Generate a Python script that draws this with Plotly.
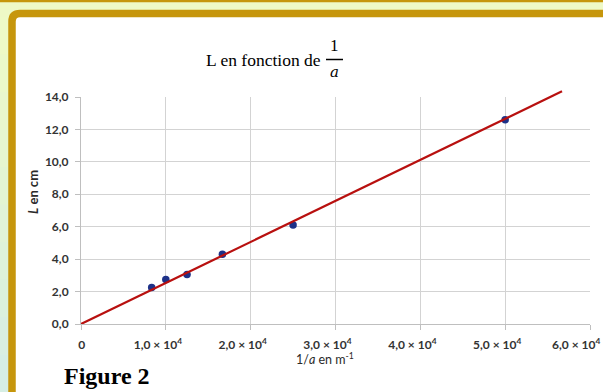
import plotly.graph_objects as go

# ---- data ----
inv_a = [8330, 10000, 12500, 16670, 25000, 50000]          # 1/a in m^-1
L_cm = [2.25, 2.75, 3.05, 4.3, 6.1, 12.6]                  # L in cm
fit_x = [0, 56700]
fit_y = [0, 14.35]

NB = "\u00a0"
x_ticks = [0, 10000, 20000, 30000, 40000, 50000, 60000]
x_ticklabels = [NB * 6 + "0", "1,0 × 10<sup>4</sup>", "2,0 × 10<sup>4</sup>", "3,0 × 10<sup>4</sup>",
                "4,0 × 10<sup>4</sup>", "5,0 × 10<sup>4</sup>", "6,0 × 10<sup>4</sup>" + NB * 4]
y_ticks = [0, 2, 4, 6, 8, 10, 12, 14]
y_ticklabels = ["0,0", "2,0", "4,0", "6,0", "8,0", "10,0", "12,0", "14,0"]

# ---- geometry ----
W, H = 603, 392
ML, MR, MT, MB = 81, 13, 87, 68
PW, PH = W - ML - MR, H - MT - MB
Y_TOP_FRAC = 227 / PH


def X(px):
    return (px - ML) / PW


def Y(py):
    return (H - MB - py) / PH


fig = go.Figure()

fig.add_trace(go.Scatter(x=inv_a, y=L_cm, mode="markers", xaxis="x", yaxis="y",
                         marker=dict(color="#1d3188", size=7.5, line=dict(width=0)),
                         showlegend=False, hoverinfo="skip"))
fig.add_trace(go.Scatter(x=fit_x, y=fit_y, mode="lines", xaxis="x2", yaxis="y2",
                         line=dict(color="#b8100f", width=2.2),
                         showlegend=False, hoverinfo="skip"))

tickfont = dict(family="Lato", size=12, color="#333333", weight="bold")

shapes = []
# background gradient on left strip
c0 = (238, 250, 198)
c1 = (214, 238, 228)
n = 10
for i in range(n):
    t = i / (n - 1)
    col = "rgb(%d,%d,%d)" % tuple(round(a + (b - a) * t) for a, b in zip(c0, c1))
    y0 = 17 + i * (H - 17) / n
    y1 = 17 + (i + 1) * (H - 17) / n + 1
    shapes.append(dict(type="rect", xref="paper", yref="paper", layer="below",
                       x0=X(-5), x1=X(10), y0=Y(y0), y1=Y(y1),
                       line=dict(width=0), fillcolor=col))
# thin gold strip at very top
shapes.append(dict(type="rect", xref="paper", yref="paper", layer="below",
                   x0=X(-5), x1=X(W + 5), y0=Y(-3), y1=Y(2.3),
                   line=dict(width=0), fillcolor="#c6960c"))
# framed white panel with rounded corner
r = 8
path = ("M {a},{b} L {a},{c} Q {a},{d} {e},{d} L {f},{d} L {f},{b} Z").format(
    a=X(12), b=Y(H + 20), c=Y(13.5 + r), d=Y(13.5), e=X(12 + r), f=X(W + 20))
shapes.append(dict(type="path", xref="paper", yref="paper", layer="below", path=path,
                   line=dict(color="#c6960c", width=7.5), fillcolor="white"))
# fraction bar of the title
shapes.append(dict(type="line", xref="paper", yref="paper", layer="above",
                   x0=X(326), x1=X(343), y0=Y(59.5), y1=Y(59.5),
                   line=dict(color="black", width=1.5)))

serif = "Liberation Serif"
annotations = [
    dict(text="L en fonction de", x=X(263), y=Y(60), font=dict(family=serif, size=17.5, color="black")),
    dict(text="1", x=X(334.5), y=Y(46), font=dict(family=serif, size=17, color="black")),
    dict(text="<i>a</i>", x=X(334.5), y=Y(72), font=dict(family="DejaVu Serif", size=15, color="black")),
    dict(text="<i>L</i> en cm", x=X(33), y=Y(192), textangle=-90,
         font=dict(family="Lato", size=13, color="#2a2a2a", weight="bold")),
    dict(text="1/<i>a</i> en m<sup>-1</sup>", x=X(325), y=Y(358),
         font=dict(family="Lato", size=12.5, color="#2a2a2a")),
    dict(text="<b>Figure 2</b>", x=X(62), y=Y(376), xanchor="left",
         font=dict(family=serif, size=24, color="black")),
]
for a in annotations:
    a.setdefault("xanchor", "center")
    a.update(xref="paper", yref="paper", yanchor="middle", showarrow=False)

fig.update_layout(
    template="none",
    width=W, height=H, autosize=False,
    margin=dict(l=ML, r=MR, t=MT, b=MB, pad=0),
    paper_bgcolor="#eef9c6", plot_bgcolor="rgba(0,0,0,0)",
    showlegend=False,
    shapes=shapes, annotations=annotations,
    xaxis=dict(domain=[0, 1], range=[0, 60000], anchor="y", automargin=False,
               tickmode="array", tickvals=x_ticks, ticktext=x_ticklabels,
               showgrid=True, gridcolor="#d3d3d3", gridwidth=1,
               showline=True, linecolor="#bfbfbf", linewidth=1,
               ticks="outside", ticklen=5, tickcolor="#bfbfbf",
               zeroline=False, tickfont=tickfont, ticklabelstandoff=5,
               ticklabelshift=-8, ticklabeloverflow="allow"),
    yaxis=dict(domain=[0, Y_TOP_FRAC], range=[0, 14], anchor="x", automargin=False,
               tickmode="array", tickvals=y_ticks, ticktext=y_ticklabels,
               showgrid=True, gridcolor="#d3d3d3", gridwidth=1,
               showline=True, linecolor="#bfbfbf", linewidth=1,
               ticks="outside", ticklen=5, tickcolor="#bfbfbf",
               zeroline=False, tickfont=tickfont, ticklabelstandoff=4),
    xaxis2=dict(domain=[0, 1], range=[0, 60000], anchor="y2", visible=False,
                automargin=False, showgrid=False, zeroline=False),
    yaxis2=dict(domain=[0, 1], range=[0, 14 / Y_TOP_FRAC], anchor="x2", visible=False,
                automargin=False, showgrid=False, zeroline=False),
)

fig.write_html("out.html", config={"displayModeBar": False},
               post_script="document.body.style.margin='0';document.body.style.padding='0';"
                           "document.body.style.overflow='hidden';")
